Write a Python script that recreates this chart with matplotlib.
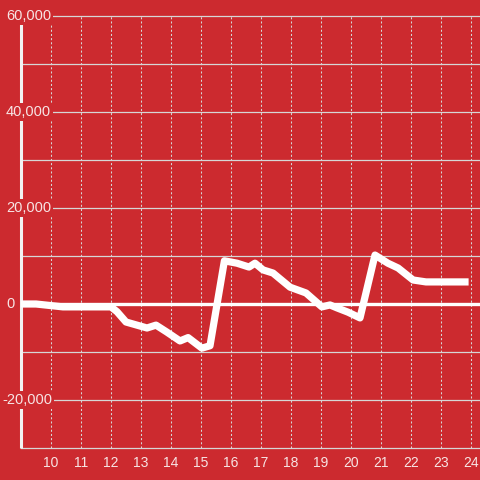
import matplotlib
matplotlib.use('Agg')
import matplotlib.pyplot as plt
import matplotlib.transforms as mtransforms

BG = '#cc2a2f'
FG = '#f7e4e4'
GRID = '#d6d6d6'

# hours of the day and running value
hours = [9.0, 9.5, 10.4, 11.0, 12.0, 12.2, 12.5, 13.2, 13.5, 13.85, 14.3, 14.57,
         15.03, 15.3, 15.78, 16.2, 16.6, 16.8, 17.07, 17.4, 17.97, 18.5,
         19.03, 19.3, 19.53, 19.9, 20.3, 20.8, 21.23, 21.57, 22.07, 22.5, 23.8]
values = [0, 0, -600, -600, -600, -1600, -3750, -5000, -4400, -5800, -7700, -7000,
          -9200, -8700, 9000, 8500, 7700, 8500, 7100, 6450, 3500, 2300,
          -600, -200, -800, -1700, -2900, 10200, 8500, 7500, 5000, 4600, 4600]

x_ticks = list(range(10, 25))
y_label_ticks = [-20000, 0, 20000, 40000, 60000]
y_grid_ticks = [-30000, -20000, -10000, 0, 10000, 20000, 30000, 40000, 50000, 60000]

plt.rcParams['font.family'] = ['Liberation Sans', 'DejaVu Sans']

fig = plt.figure(figsize=(4.8, 4.8), dpi=100)
fig.patch.set_facecolor(BG)
ax = fig.add_axes([21/480, 32/480, 459/480, 432/480])
ax.set_facecolor(BG)
ax.set_xlim(9.0, 24.3)
ax.set_ylim(-30000, 60000)

for s in ax.spines.values():
    s.set_visible(False)

# grid
for yv in y_grid_ticks:
    ax.axhline(yv, color=GRID, lw=0.9, zorder=1, clip_on=False)
for xv in x_ticks:
    ax.axvline(xv, color=GRID, lw=0.75, dashes=(2, 2), zorder=1)

# left axis line
ax.plot([9.0, 9.0], [-30000, 60000], color='#f2f2f2', lw=2.2, zorder=2,
        clip_on=False, solid_capstyle='butt')
# zero line
ax.axhline(0, color='white', lw=2.4, zorder=2)

ax.plot(hours, values, color='white', lw=5.2, zorder=4,
        solid_capstyle='projecting', solid_joinstyle='round')

ax.set_xticks(x_ticks)
ax.set_xticklabels([str(h) for h in x_ticks])
ax.tick_params(axis='x', length=0, pad=6, labelsize=10, labelcolor=FG)
ax.set_yticks([])

trans = mtransforms.blended_transform_factory(ax.transAxes, ax.transData)
for yv in y_label_ticks:
    shift = -19 if yv < 0 else -15
    off = mtransforms.ScaledTranslation(shift/100, 0, fig.dpi_scale_trans)
    ax.text(0, yv, f'{yv:,}', transform=trans + off,
            ha='left', va='center', fontsize=10.5, color=FG, zorder=3,
            bbox=dict(facecolor=BG, edgecolor='none', pad=1.5))

fig.savefig('out.png', dpi=100, facecolor=BG)
